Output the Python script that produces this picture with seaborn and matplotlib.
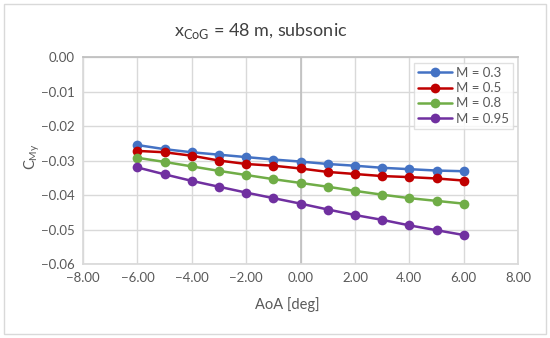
import numpy as np
import pandas as pd
import matplotlib
matplotlib.use("Agg")
import matplotlib.pyplot as plt
from matplotlib.patches import Rectangle
from matplotlib.ticker import FuncFormatter
import seaborn as sns

# data
aoa = [-6, -5, -4, -3, -2, -1, 0, 1, 2, 3, 4, 5, 6]
mach_labels = ["M = 0.3", "M = 0.5", "M = 0.8", "M = 0.95"]
cmy_m03 = [-0.0255, -0.0267, -0.0276, -0.0283, -0.0290, -0.0297, -0.0303,
           -0.0310, -0.0315, -0.0321, -0.0325, -0.0329, -0.0331]
cmy_m05 = [-0.0272, -0.0276, -0.0286, -0.0300, -0.0310, -0.0315, -0.0323,
           -0.0333, -0.0339, -0.0345, -0.0348, -0.0352, -0.0358]
cmy_m08 = [-0.0292, -0.0304, -0.0317, -0.0330, -0.0342, -0.0354, -0.0365,
           -0.0376, -0.0388, -0.0399, -0.0409, -0.0417, -0.0425]
cmy_m095 = [-0.0320, -0.0340, -0.0359, -0.0376, -0.0393, -0.0409, -0.0425,
            -0.0442, -0.0458, -0.0472, -0.0488, -0.0502, -0.0516]
colors = ["#4472C4", "#C00000", "#70AD47", "#7030A0"]

frames = []
for lab, vals in zip(mach_labels, [cmy_m03, cmy_m05, cmy_m08, cmy_m095]):
    frames.append(pd.DataFrame({"AoA": aoa, "CMy": vals, "series": lab}))
df = pd.concat(frames, ignore_index=True)

sns.set_theme(style="white")
plt.rcParams['font.family'] = ['Lato', 'DejaVu Sans']
txt = "#595959"

fig = plt.figure(figsize=(5.5, 3.38), dpi=100)
ax = fig.add_axes([0.151, 0.219, 0.791, 0.612])

sns.lineplot(data=df, x="AoA", y="CMy", hue="series", palette=colors,
             marker="o", markersize=7, markeredgewidth=0, linewidth=1.8,
             ax=ax, zorder=3)

ax.set_xlim(-8, 8)
ax.set_ylim(-0.06, 0.0)
ax.set_xticks(np.arange(-8, 9, 2))
ax.set_yticks(np.arange(-0.06, 0.001, 0.01))
ax.xaxis.set_major_formatter(FuncFormatter(lambda v, p: f"{v:.2f}".replace("-", "\u2212")))
ax.yaxis.set_major_formatter(FuncFormatter(lambda v, p: f"{v:.2f}".replace("-", "\u2212") if abs(v) > 1e-9 else "0.00"))
ax.grid(True, color="#D9D9D9", linewidth=1)
ax.axvline(0, color="#BFBFBF", linewidth=1.2, zorder=2)
for s in ax.spines.values():
    s.set_color("#D9D9D9")
ax.spines["top"].set_color("#BFBFBF")
ax.tick_params(axis="both", colors=txt, labelsize=9.5, length=0, pad=6)

ax.set_xlabel("AoA [deg]", color=txt, fontsize=10.5)
ax.xaxis.set_label_coords(0.469, -0.16)
ax.set_ylabel(r"C$_{\mathregular{My}}$", color=txt, fontsize=10.5)
ax.yaxis.set_label_coords(-0.095, 0.52)
ax.set_title(r"x$_{\mathregular{CoG}}$ = 48 m, subsonic", color="#404040",
             fontsize=13, pad=15, x=0.409)

leg = ax.legend(loc="upper right", bbox_to_anchor=(0.995, 0.985), frameon=True,
                fancybox=False, edgecolor="#D9D9D9", fontsize=9.5,
                handlelength=2.6, handletextpad=0.3, borderpad=0.3,
                labelspacing=0.25, borderaxespad=0.2)
for t in leg.get_texts():
    t.set_color(txt)
leg.get_frame().set_linewidth(1)

fig.patches.append(Rectangle((0.008, 0.012), 0.984, 0.976, transform=fig.transFigure,
                             fill=False, edgecolor="#D9D9D9", linewidth=1))

fig.savefig("out.png", dpi=100)
